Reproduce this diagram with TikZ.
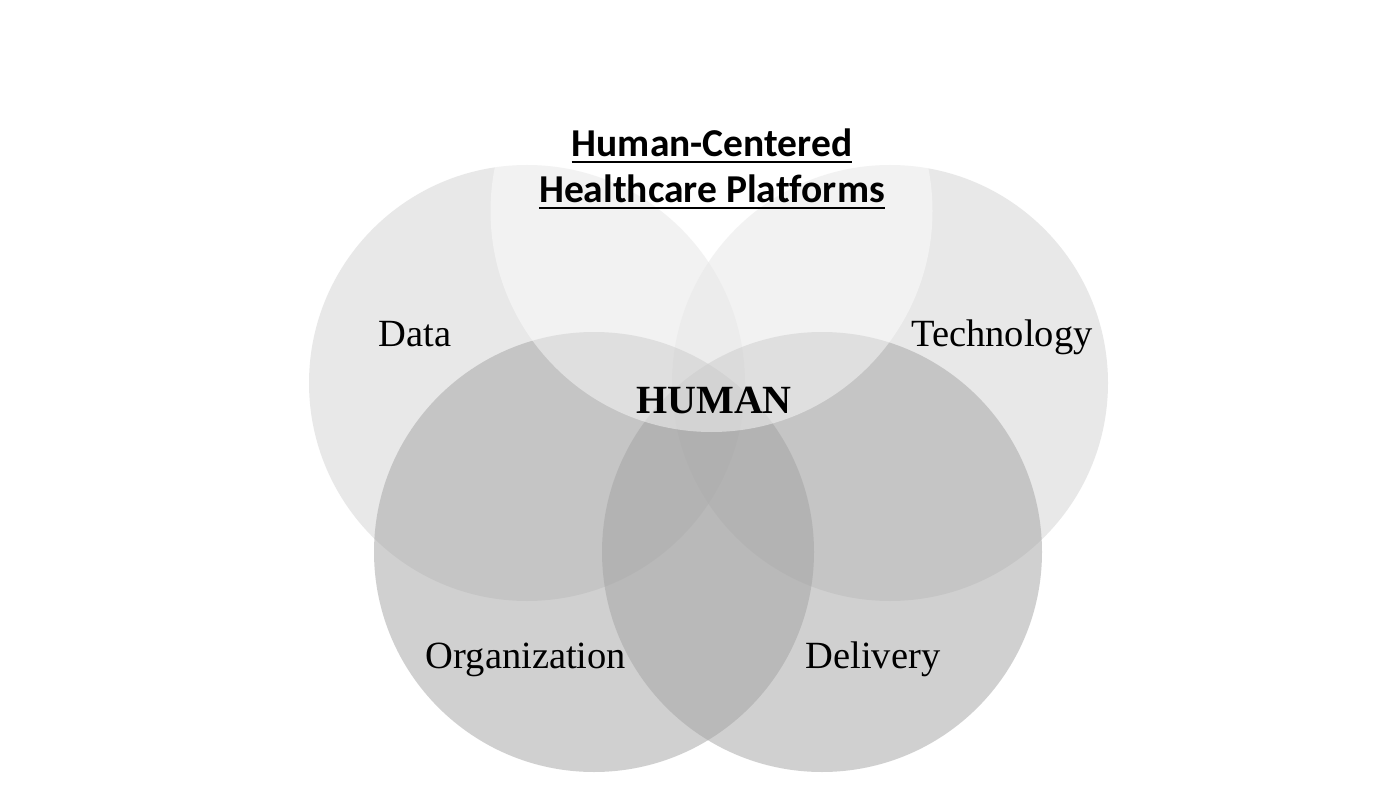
\documentclass[tikz,border=0pt]{standalone}
\usepackage{fontspec}
\setmainfont{Liberation Serif}
\newfontfamily\titlefont[Ligatures={NoCommon}]{Carlito}
\definecolor{sidegray}{RGB}{211,211,211}
\definecolor{lowgray}{RGB}{163,163,163}
\begin{document}
\begin{tikzpicture}[x=1pt,y=-1pt,
  sidecirc/.style={fill=sidegray,fill opacity=0.5,draw=none},
  lowcirc/.style={fill=lowgray,fill opacity=0.5,draw=none},
  humancirc/.style={fill=white,fill opacity=0.45,draw=none},
  lbl/.style={anchor=base,inner sep=0pt,font=\fontsize{38.5}{46}\selectfont},
  ttl/.style={anchor=base,inner sep=0pt,font=\titlefont\bfseries\fontsize{39.5}{47}\selectfont},
  uline/.style={line width=2.8pt}]
\useasboundingbox (0,0) rectangle (1400,805);
\fill[white] (0,0) rectangle (1400,805);
\fill[sidecirc] (527,383) circle[radius=218];
\fill[sidecirc] (890,383) circle[radius=218];
\fill[lowcirc] (594,552) circle[radius=220];
\fill[lowcirc] (822,552) circle[radius=220];
\fill[humancirc] (711.5,211) circle[radius=221];
\node[ttl] (t1) at (712,157) {Human-Centered};
\node[ttl] (t2) at (712,203) {Healthcare Platforms};
\draw[uline] ([yshift=-5pt]t1.base west) -- ([yshift=-5pt]t1.base east);
\draw[uline] ([yshift=-5pt]t2.base west) -- ([yshift=-5pt]t2.base east);
\node[lbl] (data) at (415,346) {Data};
\node[lbl] (tech) at (1002,346) {Technology};
\node[lbl] (org) at (526,668) {Organization};
\node[lbl] (del) at (873,668) {Delivery};
\node[anchor=base,inner sep=0pt,font=\bfseries\fontsize{40}{48}\selectfont] (human) at (714,413) {HUMAN};
\end{tikzpicture}
\end{document}
